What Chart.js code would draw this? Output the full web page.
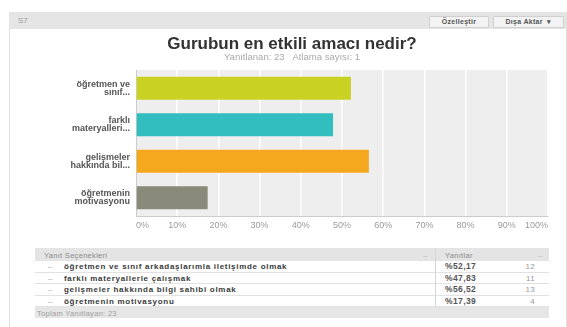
<!DOCTYPE html>
<html><head><meta charset="utf-8">
<script src="https://cdn.jsdelivr.net/npm/chart.js@4.4.1/dist/chart.umd.min.js"></script>
<style>
html,body{margin:0;padding:0;background:#fff;}
body{width:567px;height:327px;overflow:hidden;position:relative;font-family:"Liberation Sans",Arial,sans-serif;}
#panel{position:absolute;left:9px;top:12px;width:556px;height:330px;border-left:1px solid #e0e0e0;border-right:1px solid #e0e0e0;}
#hdr{position:absolute;left:9px;top:12px;width:557px;height:17px;background:#e5e5e5;}
#s7{position:absolute;left:9px;top:4px;font-size:8px;color:#9a9a9a;}
.btn{position:absolute;top:4px;height:10px;background:#f3f3f3;border:1px solid #cfcfcf;border-radius:1px;font-size:7px;font-weight:bold;color:#555;line-height:10px;text-align:center;letter-spacing:0.3px;}
#wrap{position:absolute;left:0;top:30px;width:567px;height:210px;}
.abs{position:absolute;white-space:nowrap;}
.row{position:absolute;left:35px;width:514px;}
.t{position:absolute;white-space:nowrap;top:50%;transform:translateY(-50%);}
</style></head>
<body>
<div id="panel"></div>
<div id="hdr"><span id="s7">S7</span>
<div class="btn" style="left:420px;width:58px;">Özelleştir</div>
<div class="btn" style="left:484px;width:69px;">Dışa Aktar &nbsp;▾</div>
</div>
<div id="wrap"><canvas id="c" width="567" height="210"></canvas></div>
<div id="tbl"></div>
<script>
const questionTitle = "Gurubun en etkili amacı nedir?";
const subtitleText = "Yanıtlanan: 23   Atlama sayısı: 1";
const axisLabels = [["öğretmen ve","sınıf..."],["farklı","materyalleri..."],["gelişmeler","hakkında bil..."],["öğretmenin","motivasyonu"]];
const fullCategories = ["öğretmen ve sınıf arkadaşlarımla iletişimde olmak","farklı materyallerle çalışmak","gelişmeler hakkında bilgi sahibi olmak","öğretmenin motivasyonu"];
const percentValues = [52.17, 47.83, 56.52, 17.39];
const percentLabels = ["%52,17","%47,83","%56,52","%17,39"];
const counts = [12, 11, 13, 4];
const totalLabel = "Toplam Yanıtlayan: 23";
const barColors = ["#c9d223","#32bdbf","#f5a81d","#8a8a7b"];

const bgPlugin = {id:'bg', beforeDraw(chart){const {ctx,chartArea:a}=chart; ctx.save(); ctx.fillStyle='#eeeeee'; ctx.fillRect(a.left,a.top,a.right-a.left,a.bottom-a.top); ctx.restore();}};

new Chart(document.getElementById('c'), {
  type:'bar',
  data:{labels:axisLabels, datasets:[{data:percentValues, backgroundColor:barColors, barPercentage:0.63, categoryPercentage:1}]},
  options:{
    indexAxis:'y', responsive:false, animation:false, devicePixelRatio:1,
    layout:{padding:{left:36,right:19,top:0,bottom:0}},
    plugins:{legend:{display:false}, tooltip:{enabled:false},
      title:{display:true,text:questionTitle,color:'#333',font:{family:'Liberation Sans',size:17,weight:'bold',lineHeight:1},padding:{top:5.5,bottom:0}},
      subtitle:{display:true,text:subtitleText,color:'#aaa',font:{family:'Liberation Sans',size:9.5,lineHeight:1},padding:{top:0,bottom:8}}
    },
    scales:{
      x:{min:0,max:100,
        ticks:{stepSize:10,callback:v=>v+'%',align:'inner',color:'#9a9a9a',font:{family:'Liberation Sans',size:9},padding:4},
        grid:{color:'#ffffff',lineWidth:1.5,drawTicks:false},
        border:{color:'#cccccc'},
        afterFit:s=>{s.height=24;}},
      y:{ticks:{color:'#555',font:{family:'Liberation Sans',size:9,weight:'bold',lineHeight:0.85},padding:6},
        grid:{display:false,drawTicks:false},
        border:{color:'#cccccc'},
        afterFit:s=>{s.width=100;}}
    }
  },
  plugins:[bgPlugin]
});

const tb = document.getElementById('tbl');
let h = '';
h += '<div class="row" style="top:248px;height:13px;background:#e4e4e4;">'
  + '<span class="t" style="left:9px;font-size:7.5px;color:#8a8a8a;letter-spacing:0.3px">Yanıt Seçenekleri</span>'
  + '<span class="t" style="left:388px;font-size:8px;color:#bbb">–</span>'
  + '<span class="t" style="left:410px;font-size:7.5px;color:#8a8a8a;letter-spacing:0.3px">Yanıtlar</span>'
  + '<span class="t" style="left:503px;font-size:8px;color:#bbb">–</span></div>';
const rowH = 11.5;
for(let i=0;i<fullCategories.length;i++){
  const top = 261 + i*rowH;
  h += '<div class="row" style="top:'+top+'px;height:'+(rowH-1)+'px;border-bottom:1px solid #e2e2e2;">'
    + '<span class="t" style="left:13px;font-size:8px;color:#aaa">–</span>'
    + '<span class="t" style="left:29px;font-size:8px;font-weight:bold;color:#3a3a3a;letter-spacing:0.7px">'+fullCategories[i]+'</span>'
    + '<span class="t" style="left:410px;font-size:8.5px;font-weight:bold;color:#555;letter-spacing:0.4px">'+percentLabels[i]+'</span>'
    + '<span class="t" style="right:14px;font-size:8px;color:#999;letter-spacing:0.3px">'+counts[i]+'</span></div>';
}
h += '<div class="abs" style="left:435px;top:248px;width:1px;height:59px;background:#d4d4d4"></div>';
h += '<div class="row" style="top:307px;height:11px;background:#e6e6e6;">'
  + '<span class="t" style="left:2px;font-size:7.5px;color:#a0a0a0;letter-spacing:0.3px">'+totalLabel+'</span></div>';
tb.innerHTML = h;
</script>
</body></html>
